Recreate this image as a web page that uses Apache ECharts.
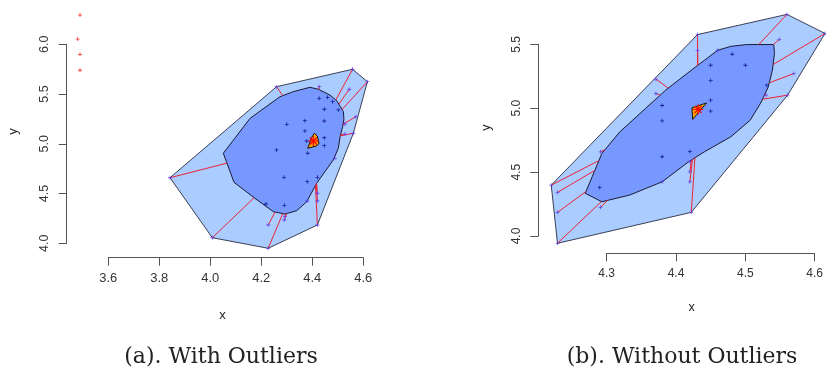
<!DOCTYPE html>
<html><head><meta charset="utf-8">
<script src="https://cdn.jsdelivr.net/npm/echarts@6/dist/echarts.min.js"></script>
<style>html,body{margin:0;padding:0;background:#fff}#c{width:826px;height:370px}</style>
</head><body><div id="c"></div>
<script>
// ---------- Panel (a): With Outliers ----------
const aXTicks = [3.6, 3.8, 4.0, 4.2, 4.4, 4.6];
const aYTicks = [4.0, 4.5, 5.0, 5.5, 6.0];
const aBagPoints = [[4.427,5.457],[4.460,5.467],[4.480,5.423],[4.447,5.347],[4.502,5.340],[4.300,5.196],[4.371,5.232],[4.447,5.229],[4.371,5.129],[4.447,5.061],[4.447,4.981],[4.378,5.028],[4.382,4.905],[4.260,4.938],[4.289,4.663],[4.380,4.619],[4.420,4.663],[4.218,4.395],[4.290,4.382]];
const aLoopPoints = [[3.842,4.659],[4.260,5.574],[4.558,5.749],[4.616,5.624],[4.561,5.106],[4.420,4.184],[4.227,3.950],[4.008,4.056],[4.427,5.574],[4.545,5.548],[4.571,5.272],[4.528,5.199],[4.528,5.098],[4.489,4.854],[4.227,4.184],[4.290,4.234],[4.293,4.270],[4.380,4.425],[4.420,4.425],[4.420,4.503]];
const aOutliers = [[3.489,6.294],[3.480,6.053],[3.489,5.899],[3.489,5.739]];
const aBagHull = [[4.051,4.905],[4.156,5.256],[4.273,5.473],[4.325,5.524],[4.391,5.568],[4.424,5.548],[4.469,5.490],[4.496,5.433],[4.522,5.323],[4.524,5.246],[4.519,5.172],[4.509,5.071],[4.502,4.955],[4.482,4.837],[4.417,4.603],[4.378,4.418],[4.339,4.328],[4.293,4.294],[4.247,4.318],[4.175,4.452],[4.093,4.613]];
const aCenterHull = [[4.382,4.955],[4.398,5.065],[4.408,5.106],[4.420,5.078],[4.426,5.005],[4.417,4.978]];
const aCenter = [4.404, 5.028];

// ---------- Panel (b): Without Outliers ----------
const bXTicks = [4.3, 4.4, 4.5, 4.6];
const bYTicks = [4.0, 4.5, 5.0, 5.5];
const bBagPoints = [[4.481,5.422],[4.450,5.336],[4.500,5.336],[4.450,5.216],[4.531,5.180],[4.450,5.063],[4.450,4.977],[4.380,5.021],[4.380,4.901],[4.380,4.620],[4.420,4.662],[4.290,4.380]];
const bLoopPoints = [[4.220,4.398],[4.431,5.576],[4.560,5.734],[4.615,5.585],[4.561,5.102],[4.422,4.185],[4.229,3.943],[4.229,4.341],[4.229,4.185],[4.291,4.659],[4.291,4.224],[4.371,5.227],[4.371,5.115],[4.431,5.453],[4.460,5.453],[4.549,5.539],[4.570,5.271],[4.530,5.102],[4.380,4.424],[4.420,4.502],[4.420,4.424],[4.420,4.580]];
const bOutliers = [];
const bBagHull = [[4.460,5.453],[4.479,5.484],[4.502,5.498],[4.541,5.498],[4.542,5.427],[4.539,5.297],[4.533,5.166],[4.523,5.049],[4.507,4.906],[4.479,4.776],[4.441,4.659],[4.418,4.580],[4.380,4.424],[4.333,4.320],[4.293,4.268],[4.269,4.334],[4.279,4.463],[4.293,4.646],[4.319,4.815],[4.356,4.998],[4.385,5.141],[4.422,5.297],[4.441,5.375]];
const bCenterHull = [[4.423,5.003],[4.444,5.041],[4.424,4.912]];
const bCenter = [4.432, 4.990];

const captions = ['(a). With Outliers', '(b). Without Outliers'];

// ---------- helpers ----------
function convexHull(pts) {
  const p = pts.slice().sort((a, b) => a[0] - b[0] || a[1] - b[1]);
  const cross = (o, a, b) => (a[0]-o[0])*(b[1]-o[1]) - (a[1]-o[1])*(b[0]-o[0]);
  const lower = [], upper = [];
  for (const q of p) { while (lower.length >= 2 && cross(lower[lower.length-2], lower[lower.length-1], q) <= 0) lower.pop(); lower.push(q); }
  for (let i = p.length - 1; i >= 0; i--) { const q = p[i]; while (upper.length >= 2 && cross(upper[upper.length-2], upper[upper.length-1], q) <= 0) upper.pop(); upper.push(q); }
  upper.pop(); lower.pop();
  return lower.concat(upper);
}
function whiskers(points, bag, c) {
  const segs = [];
  for (const p of points) {
    let best = null;
    for (let i = 0; i < bag.length; i++) {
      const a = bag[i], b = bag[(i + 1) % bag.length];
      const rx = c[0]-p[0], ry = c[1]-p[1], sx = b[0]-a[0], sy = b[1]-a[1];
      const den = rx*sy - ry*sx;
      if (Math.abs(den) < 1e-12) continue;
      const t = ((a[0]-p[0])*sy - (a[1]-p[1])*sx) / den;
      const u = ((a[0]-p[0])*ry - (a[1]-p[1])*rx) / den;
      if (t >= 0 && t <= 1 && u >= 0 && u <= 1 && (best === null || t < best)) best = t;
    }
    if (best !== null && best > 0) segs.push([p[0], p[1], p[0] + best*(c[0]-p[0]), p[1] + best*(c[1]-p[1])]);
  }
  return segs;
}
const step = t => Math.round((t[1] - t[0]) * 1e6) / 1e6;
const plus = 'path://M2,0h1v2h2v1h-2v2h-1v-2h-2v-1h2z';

function panelSeries(i, bagPts, loopPts, outl, bagHull, centerHull, center) {
  const loopHull = convexHull(bagPts.concat(loopPts));
  const poly = (pts, fill, stroke, z) => ({
    type: 'custom', xAxisIndex: i, yAxisIndex: i, clip: false, silent: true, z, data: [0],
    renderItem: (params, api) => ({ type: 'polygon', shape: { points: pts.map(p => api.coord(p)) },
      style: { fill, stroke, lineWidth: 1 } })
  });
  return [
    poly(loopHull, '#aaccff', '#3a3f55', 1),
    poly(bagHull, '#7799ff', '#1a1a33', 2),
    { type: 'custom', xAxisIndex: i, yAxisIndex: i, clip: false, silent: true, z: 3,
      data: whiskers(loopPts, bagHull, center), encode: { x: [0, 2], y: [1, 3] },
      renderItem: (params, api) => {
        const p1 = api.coord([api.value(0), api.value(1)]), p2 = api.coord([api.value(2), api.value(3)]);
        return { type: 'line', shape: { x1: p1[0], y1: p1[1], x2: p2[0], y2: p2[1] }, style: { stroke: '#ee2233', lineWidth: 1 } };
      } },
    { type: 'scatter', xAxisIndex: i, yAxisIndex: i, clip: false, silent: true, z: 4, symbol: plus, symbolSize: 4,
      itemStyle: { color: '#000088' }, data: bagPts },
    { type: 'scatter', xAxisIndex: i, yAxisIndex: i, clip: false, silent: true, z: 4, symbol: plus, symbolSize: 4,
      itemStyle: { color: '#5533ee' }, data: loopPts },
    { type: 'scatter', xAxisIndex: i, yAxisIndex: i, clip: false, silent: true, z: 4, symbol: plus, symbolSize: 4,
      itemStyle: { color: '#ff0000' }, data: outl },
    poly(centerHull, '#ffa500', '#111', 5),
    { type: 'custom', xAxisIndex: i, yAxisIndex: i, clip: false, silent: true, z: 6, data: [center],
      renderItem: (params, api) => {
        const c = api.coord([api.value(0), api.value(1)]), r = 5;
        const st = { stroke: '#ff0000', lineWidth: 1.2 };
        return { type: 'group', children: [
          { type: 'line', shape: { x1: c[0]-r, y1: c[1], x2: c[0]+r, y2: c[1] }, style: st },
          { type: 'line', shape: { x1: c[0], y1: c[1]-r, x2: c[0], y2: c[1]+r }, style: st },
          { type: 'line', shape: { x1: c[0]-r*0.7, y1: c[1]-r*0.7, x2: c[0]+r*0.7, y2: c[1]+r*0.7 }, style: st },
          { type: 'line', shape: { x1: c[0]-r*0.7, y1: c[1]+r*0.7, x2: c[0]+r*0.7, y2: c[1]-r*0.7 }, style: st }
        ] };
      } }
  ];
}

function xAxis(i, ticks, offset, size) {
  return { gridIndex: i, type: 'value', min: ticks[0], max: ticks[ticks.length-1], interval: step(ticks), offset,
    axisLine: { show: true, lineStyle: { color: '#555', width: 1 } },
    axisTick: { show: true, length: 8, lineStyle: { color: '#555' } },
    axisLabel: { color: '#333', fontFamily: 'Liberation Sans', fontSize: size, margin: 14, formatter: v => v.toFixed(1) },
    splitLine: { show: false } };
}
function yAxis(i, ticks, offset, size) {
  return { gridIndex: i, type: 'value', min: ticks[0], max: ticks[ticks.length-1], interval: step(ticks), offset,
    axisLine: { show: true, lineStyle: { color: '#555', width: 1 } },
    axisTick: { show: true, length: 8, lineStyle: { color: '#555' } },
    axisLabel: { color: '#333', fontFamily: 'Liberation Sans', fontSize: size, margin: 16, rotate: 90, formatter: v => v.toFixed(1) },
    splitLine: { show: false } };
}
const txt = (x, y, s, size, rot, font) => ({ type: 'text', x, y, rotation: rot || 0,
  style: { text: s, fill: '#222', font: size + 'px ' + font, align: 'center', verticalAlign: 'middle' } });

const chart = echarts.init(document.getElementById('c'), null, { renderer: 'canvas' });
chart.setOption({
  animation: false,
  backgroundColor: '#fff',
  grid: [
    { left: 108.3, width: 255, top: 44.3, height: 199 },
    { left: 606.7, width: 212.6, top: 44.3, height: 191.7 }
  ],
  xAxis: [xAxis(0, aXTicks, 14.4, 13), xAxis(1, bXTicks, 17.3, 12)],
  yAxis: [yAxis(0, aYTicks, 41.6, 12.5), yAxis(1, bYTicks, 68.4, 12)],
  series: [].concat(
    panelSeries(0, aBagPoints, aLoopPoints, aOutliers, aBagHull, aCenterHull, aCenter),
    panelSeries(1, bBagPoints, bLoopPoints, bOutliers, bBagHull, bCenterHull, bCenter)
  ),
  graphic: [
    txt(222.5, 315, 'x', 13, 0, 'Liberation Sans'),
    txt(13, 131.5, 'y', 13, Math.PI/2, 'Liberation Sans'),
    txt(691.7, 308, 'x', 12.5, 0, 'Liberation Sans'),
    txt(486.7, 127.7, 'y', 12.5, Math.PI/2, 'Liberation Sans'),
    txt(221, 357, captions[0], 22, 0, 'DejaVu Serif'),
    txt(682, 357, captions[1], 22, 0, 'DejaVu Serif')
  ]
});
</script></body></html>
